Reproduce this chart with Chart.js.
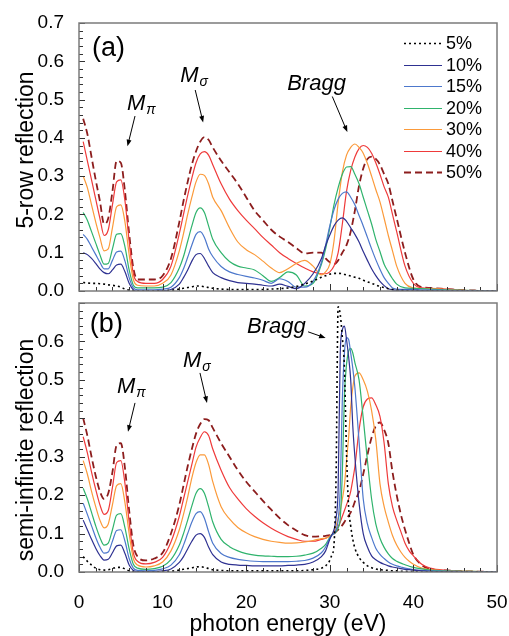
<!DOCTYPE html>
<html>
<head>
<meta charset="utf-8">
<script src="https://cdn.jsdelivr.net/npm/chart.js@4.4.1/dist/chart.umd.min.js"></script>
<style>
  html, body { margin: 0; padding: 0; background: #fff; }
  #wrap { position: relative; width: 509px; height: 636px; }
  canvas { position: absolute; left: 0; }
  #panelA { top: 0; }
  #panelB { top: 290px; }
</style>
</head>
<body>
<div id="wrap">
  <canvas id="panelA" width="509" height="305"></canvas>
  <canvas id="panelB" width="509" height="346"></canvas>
</div>
<script>
// ---- series metadata ----
const seriesLabels = ['5%', '10%', '15%', '20%', '30%', '40%', '50%'];
const seriesColors = ['#000000', '#2e3191', '#4d78cc', '#2fb36c', '#fb9a3a', '#ef3a3a', '#8c1d1d'];
const seriesWidths = [1.6, 1.2, 1.2, 1.2, 1.2, 1.2, 1.8];
const seriesDashes = [[2, 3], [], [], [], [], [], [7, 4]];

// ---- (a) 5-row reflection ----
const energyA = [0.5, 1, 1.5, 2, 2.5, 3, 3.5, 4, 4.5, 5, 5.5, 6, 6.5, 7,
  8, 9, 10, 11, 12,
  12.5, 13, 13.5, 14, 14.5, 15, 15.5, 16,
  17, 18, 19, 20, 21, 22, 23, 24, 25, 26, 27, 28, 29,
  29.5, 30, 30.5, 31, 31.5, 32, 32.5, 33, 33.5, 34, 34.5, 35, 35.5, 36, 36.5, 37, 37.5, 38,
  39, 40, 41, 42,
  44, 46, 48, 50];

const fivePctA = [0.022, 0.021, 0.02, 0.02, 0.019, 0.018, 0.016, 0.015, 0.013, 0.01, 0.005, 0.002, 0.001, 0,
  0, 0, 0.001, 0.002, 0.005,
  0.007, 0.009, 0.011, 0.013, 0.013, 0.011, 0.009, 0.007,
  0.005, 0.004, 0.004, 0.004, 0.004, 0.004, 0.005, 0.006, 0.008, 0.012, 0.018, 0.026, 0.036,
  0.04, 0.044, 0.046, 0.046, 0.045, 0.042, 0.039, 0.036, 0.033, 0.028, 0.024, 0.02, 0.016, 0.012, 0.009, 0.006, 0.004, 0.002,
  0.001, 0, 0, 0,
  0, 0, 0, 0];
const tenPctA = [0.1, 0.095, 0.085, 0.072, 0.058, 0.048, 0.045, 0.055, 0.068, 0.07, 0.05, 0.02, 0.003, 0,
  0, 0, 0.001, 0.004, 0.018,
  0.035, 0.055, 0.078, 0.095, 0.098, 0.085, 0.065, 0.048,
  0.035, 0.027, 0.022, 0.02, 0.018, 0.015, 0.013, 0.018, 0.012, 0.006, 0.02, 0.045, 0.085,
  0.118, 0.146, 0.17, 0.185, 0.191, 0.182, 0.165, 0.148, 0.128, 0.103, 0.08, 0.058, 0.04, 0.025, 0.014, 0.006, 0.003, 0.002,
  0.002, 0.002, 0.001, 0.001,
  0, 0, 0, 0];
const fifteenPctA = [0.148, 0.135, 0.115, 0.095, 0.075, 0.058, 0.058, 0.08, 0.102, 0.104, 0.078, 0.035, 0.008, 0.003,
  0.003, 0.003, 0.005, 0.01, 0.035,
  0.058, 0.088, 0.12, 0.148, 0.155, 0.14, 0.11, 0.09,
  0.064, 0.05, 0.043, 0.038, 0.034, 0.028, 0.02, 0.032, 0.025, 0.01, 0.01, 0.025, 0.075,
  0.12, 0.17, 0.212, 0.24, 0.255, 0.259, 0.245, 0.225, 0.197, 0.17, 0.14, 0.11, 0.082, 0.057, 0.035, 0.02, 0.008, 0.005,
  0.004, 0.004, 0.003, 0.003,
  0.002, 0.001, 0, 0];
const twentyPctA = [0.205, 0.185, 0.155, 0.125, 0.095, 0.07, 0.072, 0.11, 0.148, 0.15, 0.115, 0.055, 0.015, 0.008,
  0.008, 0.008, 0.01, 0.022, 0.06,
  0.09, 0.13, 0.17, 0.205, 0.217, 0.205, 0.17, 0.135,
  0.1, 0.077, 0.065, 0.06, 0.055, 0.04, 0.025, 0.035, 0.05, 0.042, 0.013, 0.02, 0.07,
  0.11, 0.165, 0.225, 0.27, 0.305, 0.324, 0.325, 0.305, 0.28, 0.245, 0.21, 0.175, 0.135, 0.103, 0.07, 0.05, 0.032, 0.018,
  0.008, 0.007, 0.006, 0.005,
  0.003, 0.002, 0.001, 0];
const thirtyPctA = [0.3, 0.27, 0.225, 0.18, 0.14, 0.105, 0.11, 0.165, 0.22, 0.225, 0.18, 0.095, 0.03, 0.015,
  0.013, 0.013, 0.02, 0.042, 0.105,
  0.15, 0.2, 0.245, 0.285, 0.305, 0.302, 0.28, 0.245,
  0.21, 0.165, 0.128, 0.108, 0.095, 0.078, 0.06, 0.048, 0.058, 0.072, 0.08, 0.065, 0.042,
  0.05, 0.07, 0.13, 0.23, 0.31, 0.355, 0.375, 0.384, 0.375, 0.36, 0.333, 0.3, 0.265, 0.233, 0.19, 0.145, 0.105, 0.065,
  0.02, 0.008, 0.006, 0.006,
  0.004, 0.002, 0.001, 0];
const fortyPctA = [0.39, 0.34, 0.29, 0.24, 0.19, 0.145, 0.16, 0.225, 0.285, 0.29, 0.235, 0.13, 0.045, 0.025,
  0.02, 0.02, 0.03, 0.065, 0.15,
  0.2, 0.25, 0.295, 0.335, 0.358, 0.364, 0.355, 0.33,
  0.28, 0.24, 0.21, 0.185, 0.163, 0.14, 0.12, 0.1, 0.085, 0.072, 0.06, 0.05, 0.045,
  0.045, 0.05, 0.065, 0.1, 0.175, 0.26, 0.315, 0.35, 0.372, 0.38, 0.375, 0.36, 0.335, 0.305, 0.272, 0.245, 0.2, 0.155,
  0.065, 0.02, 0.008, 0.007,
  0.005, 0.002, 0.001, 0];
const fiftyPctA = [0.45, 0.41, 0.35, 0.29, 0.235, 0.175, 0.19, 0.26, 0.34, 0.335, 0.26, 0.15, 0.06, 0.03,
  0.03, 0.03, 0.04, 0.085, 0.18,
  0.235, 0.285, 0.33, 0.365, 0.39, 0.402, 0.395, 0.375,
  0.34, 0.31, 0.28, 0.245, 0.21, 0.185, 0.16, 0.142, 0.128, 0.112, 0.098, 0.1, 0.1,
  0.085, 0.075, 0.07, 0.08, 0.1, 0.12, 0.155, 0.21, 0.275, 0.32, 0.345, 0.351, 0.345, 0.33, 0.305, 0.28, 0.235, 0.19,
  0.1, 0.03, 0.01, 0.008,
  0.005, 0.002, 0.001, 0];

// ---- (b) semi-infinite reflection ----
const energyB = [0.5, 1, 1.5, 2, 2.5, 3, 3.5, 4, 4.5, 5, 5.5, 6, 6.5, 7,
  8, 9, 10, 11, 12,
  12.5, 13, 13.5, 14, 14.5, 15, 15.5, 16,
  17, 18, 19, 20, 21, 22, 23, 24, 25, 26, 27, 28, 29,
  29.5, 30, 30.25, 30.5, 30.75, 31, 31.25, 31.5, 31.75, 32, 32.25, 32.5, 32.75, 33,
  33.5, 34, 34.5, 35, 35.5, 36, 36.5, 37, 37.5, 38, 38.5, 39, 39.5, 40,
  41, 42, 44, 46, 48, 50];

const fivePctB = [0.04, 0.028, 0.018, 0.01, 0.006, 0.005, 0.006, 0.009, 0.012, 0.012, 0.008, 0.003, 0.001, 0,
  0, 0, 0.001, 0.002, 0.005,
  0.007, 0.009, 0.011, 0.013, 0.014, 0.012, 0.009, 0.006,
  0.004, 0.003, 0.003, 0.003, 0.003, 0.003, 0.003, 0.003, 0.003, 0.003, 0.004, 0.006, 0.01,
  0.016, 0.03, 0.045, 0.07, 0.25, 0.69, 0.67, 0.61, 0.53, 0.31, 0.17, 0.12, 0.085, 0.062,
  0.038, 0.025, 0.016, 0.011, 0.008, 0.006, 0.005, 0.004, 0.003, 0.003, 0.002, 0.002, 0.001, 0.001,
  0, 0, 0, 0, 0, 0];
const tenPctB = [0.135, 0.11, 0.085, 0.062, 0.043, 0.031, 0.033, 0.05, 0.068, 0.07, 0.048, 0.018, 0.004, 0.001,
  0.001, 0.001, 0.003, 0.008, 0.025,
  0.04, 0.06, 0.08, 0.096, 0.1, 0.09, 0.065, 0.045,
  0.026, 0.02, 0.018, 0.017, 0.016, 0.016, 0.016, 0.016, 0.017, 0.018, 0.02, 0.026, 0.04,
  0.055, 0.085, 0.097, 0.11, 0.14, 0.22, 0.57, 0.63, 0.64, 0.605, 0.56, 0.5, 0.38, 0.3,
  0.18, 0.1, 0.065, 0.042, 0.032, 0.025, 0.02, 0.016, 0.013, 0.011, 0.009, 0.007, 0.006, 0.005,
  0.003, 0.002, 0.001, 0, 0, 0];
const fifteenPctB = [0.179, 0.15, 0.12, 0.09, 0.065, 0.049, 0.052, 0.08, 0.108, 0.11, 0.08, 0.035, 0.01, 0.004,
  0.003, 0.004, 0.008, 0.018, 0.045,
  0.07, 0.1, 0.13, 0.152, 0.157, 0.14, 0.105, 0.075,
  0.048, 0.038, 0.033, 0.03, 0.028, 0.027, 0.027, 0.027, 0.027, 0.028, 0.03, 0.036, 0.05,
  0.065, 0.088, 0.096, 0.1, 0.11, 0.135, 0.22, 0.45, 0.57, 0.61, 0.605, 0.57, 0.53, 0.48,
  0.34, 0.19, 0.125, 0.09, 0.062, 0.046, 0.035, 0.026, 0.02, 0.016, 0.013, 0.01, 0.008, 0.006,
  0.004, 0.003, 0.002, 0.001, 0, 0];
const twentyPctB = [0.218, 0.19, 0.155, 0.12, 0.09, 0.07, 0.075, 0.11, 0.148, 0.152, 0.115, 0.06, 0.02, 0.01,
  0.007, 0.009, 0.015, 0.032, 0.07,
  0.1, 0.135, 0.172, 0.205, 0.217, 0.205, 0.17, 0.13,
  0.085, 0.066, 0.055, 0.048, 0.044, 0.042, 0.041, 0.04, 0.04, 0.041, 0.044, 0.049, 0.062,
  0.072, 0.09, 0.097, 0.1, 0.105, 0.115, 0.14, 0.26, 0.46, 0.54, 0.575, 0.582, 0.57, 0.545,
  0.5, 0.4, 0.29, 0.19, 0.125, 0.088, 0.064, 0.047, 0.035, 0.028, 0.023, 0.019, 0.015, 0.012,
  0.008, 0.005, 0.003, 0.002, 0.001, 0];
const thirtyPctB = [0.29, 0.255, 0.21, 0.17, 0.135, 0.115, 0.125, 0.175, 0.225, 0.23, 0.18, 0.1, 0.035, 0.018,
  0.013, 0.016, 0.026, 0.055, 0.11,
  0.15, 0.195, 0.245, 0.285, 0.305, 0.305, 0.28, 0.235,
  0.17, 0.138, 0.116, 0.102, 0.092, 0.085, 0.08, 0.077, 0.075, 0.076, 0.078, 0.082, 0.087,
  0.088, 0.093, 0.097, 0.105, 0.12, 0.14, 0.16, 0.19, 0.225, 0.29, 0.35, 0.43, 0.48, 0.51,
  0.518, 0.5, 0.47, 0.42, 0.345, 0.23, 0.17, 0.13, 0.095, 0.07, 0.052, 0.038, 0.028, 0.02,
  0.01, 0.006, 0.003, 0.002, 0.001, 0];
const fortyPctB = [0.352, 0.31, 0.26, 0.215, 0.175, 0.15, 0.16, 0.22, 0.285, 0.29, 0.23, 0.13, 0.05, 0.028,
  0.021, 0.025, 0.038, 0.078, 0.145,
  0.19, 0.235, 0.28, 0.325, 0.35, 0.365, 0.355, 0.32,
  0.265, 0.22, 0.19, 0.165, 0.145, 0.128, 0.114, 0.102, 0.092, 0.085, 0.08, 0.08, 0.085,
  0.088, 0.094, 0.097, 0.102, 0.11, 0.118, 0.13, 0.145, 0.16, 0.175, 0.19, 0.21, 0.24, 0.274,
  0.37, 0.43, 0.45, 0.453, 0.435, 0.405, 0.335, 0.23, 0.17, 0.135, 0.105, 0.075, 0.055, 0.042,
  0.02, 0.01, 0.004, 0.002, 0.001, 0];
const fiftyPctB = [0.4, 0.355, 0.3, 0.25, 0.21, 0.19, 0.205, 0.26, 0.33, 0.335, 0.27, 0.16, 0.07, 0.04,
  0.03, 0.035, 0.05, 0.1, 0.175,
  0.225, 0.275, 0.32, 0.36, 0.385, 0.398, 0.395, 0.375,
  0.335, 0.3, 0.265, 0.235, 0.21, 0.185, 0.162, 0.14, 0.122, 0.108, 0.096, 0.092, 0.093,
  0.094, 0.096, 0.097, 0.1, 0.105, 0.11, 0.115, 0.122, 0.13, 0.14, 0.146, 0.155, 0.168, 0.183,
  0.21, 0.255, 0.305, 0.35, 0.38, 0.389, 0.37, 0.335, 0.26, 0.2, 0.15, 0.11, 0.075, 0.045,
  0.018, 0.008, 0.004, 0.002, 0.001, 0];

// axis ticks
const energyTicks = [0, 10, 20, 30, 40, 50];
const reflTicks = [0, 0.1, 0.2, 0.3, 0.4, 0.5, 0.6, 0.7];

// peak labels: text anchor and arrow (energy, reflection)
const notesA = [
  { text: 'M', sub: 'π', at: [5.74, 0.473], arrow: [[6.7, 0.457], [5.8, 0.378]] },
  { text: 'M', sub: 'σ', at: [12.1, 0.546], arrow: [[13.9, 0.525], [14.85, 0.44]] },
  { text: 'Bragg', sub: '', at: [24.9, 0.525], arrow: [[30.3, 0.508], [32.1, 0.415]] },
];
const notesB = [
  { text: 'M', sub: 'π', at: [4.55, 0.466], arrow: [[6.7, 0.44], [5.86, 0.365]] },
  { text: 'M', sub: 'σ', at: [12.44, 0.534], arrow: [[14.47, 0.518], [15.31, 0.44]] },
  { text: 'Bragg', sub: '', at: [20.1, 0.622], arrow: [[27.4, 0.625], [29.5, 0.609]] },
];

const FONT = 'Liberation Sans, Arial, Helvetica, sans-serif';

function drawArrow(ctx, x1, y1, x2, y2) {
  const ang = Math.atan2(y2 - y1, x2 - x1);
  const head = 7, spread = 0.36;
  ctx.beginPath();
  ctx.moveTo(x1, y1);
  ctx.lineTo(x2 - Math.cos(ang) * head * 0.7, y2 - Math.sin(ang) * head * 0.7);
  ctx.stroke();
  ctx.beginPath();
  ctx.moveTo(x2, y2);
  ctx.lineTo(x2 - head * Math.cos(ang - spread), y2 - head * Math.sin(ang - spread));
  ctx.lineTo(x2 - head * Math.cos(ang + spread), y2 - head * Math.sin(ang + spread));
  ctx.closePath();
  ctx.fill();
}

// frame, inward tick marks, titles, peak labels and legend
function panelDecor(info) {
  return {
    id: 'panelDecor',
    afterDatasetsDraw(chart) {
      const { ctx, chartArea: a, scales: { x, y } } = chart;
      ctx.save();

      ctx.strokeStyle = '#333';
      ctx.lineWidth = 1;
      ctx.beginPath();
      for (let k = 0; k <= 35; k++) {
        const py = Math.round(y.getPixelForValue(k * 0.02)) + 0.5;
        const len = k % 5 === 0 ? 6 : 4;
        ctx.moveTo(a.left, py);
        ctx.lineTo(a.left + len, py);
      }
      for (let e = 0; e <= 50; e += 2) {
        const px = Math.round(x.getPixelForValue(e)) + 0.5;
        const len = e % 10 === 0 ? 7 : 4;
        ctx.moveTo(px, a.bottom);
        ctx.lineTo(px, a.bottom - len);
      }
      ctx.stroke();

      ctx.strokeStyle = '#7b7b7b';
      ctx.lineWidth = 1.5;
      ctx.strokeRect(a.left, a.top, a.right - a.left, a.bottom - a.top);

      ctx.fillStyle = '#000';
      ctx.textBaseline = 'alphabetic';

      // panel tag
      ctx.font = '27px ' + FONT;
      ctx.textAlign = 'left';
      ctx.fillText(info.tag, x.getPixelForValue(info.tagAt[0]), y.getPixelForValue(info.tagAt[1]));

      // y title
      ctx.save();
      ctx.translate(info.yTitleX, info.yTitleY);
      ctx.rotate(-Math.PI / 2);
      ctx.textAlign = 'center';
      ctx.font = '23px ' + FONT;
      ctx.fillText(info.yTitle, 0, 0);
      ctx.restore();

      // x title
      if (info.xTitle) {
        ctx.textAlign = 'center';
        ctx.font = '23px ' + FONT;
        ctx.fillText(info.xTitle, (a.left + a.right) / 2, info.xTitleY);
      }

      // peak labels
      ctx.strokeStyle = '#000';
      ctx.lineWidth = 1;
      ctx.textAlign = 'left';
      info.notes.forEach(n => {
        const tx = x.getPixelForValue(n.at[0]);
        const ty = y.getPixelForValue(n.at[1]);
        ctx.font = 'italic 22px ' + FONT;
        ctx.fillText(n.text, tx, ty);
        if (n.sub) {
          const w = ctx.measureText(n.text).width;
          ctx.font = 'italic 14px ' + FONT;
          ctx.fillText(n.sub, tx + w + 1, ty + 4);
        }
        drawArrow(ctx,
          x.getPixelForValue(n.arrow[0][0]), y.getPixelForValue(n.arrow[0][1]),
          x.getPixelForValue(n.arrow[1][0]), y.getPixelForValue(n.arrow[1][1]));
      });

      // legend, one row per series
      if (info.legend) {
        const lx = a.right - 93, ly = a.top + 20, row = 21.5;
        ctx.font = '18px ' + FONT;
        ctx.textBaseline = 'middle';
        seriesLabels.forEach((label, i) => {
          const yy = Math.round(ly + i * row) + 0.5;
          ctx.strokeStyle = seriesColors[i];
          ctx.lineWidth = seriesWidths[i];
          ctx.setLineDash(seriesDashes[i]);
          ctx.beginPath();
          ctx.moveTo(lx, yy);
          ctx.lineTo(lx + 38, yy);
          ctx.stroke();
          ctx.setLineDash([]);
          ctx.fillStyle = '#000';
          ctx.fillText(label, lx + 42, yy + 1);
        });
      }
      ctx.restore();
    }
  };
}

function makePanel(canvasId, energies, seriesValues, info) {
  const datasets = seriesValues.map((vals, i) => ({
    label: seriesLabels[i],
    data: energies.map((e, j) => ({ x: e, y: vals[j] })),
    borderColor: seriesColors[i],
    borderWidth: seriesWidths[i],
    borderDash: seriesDashes[i],
    pointRadius: 0,
    fill: false,
    cubicInterpolationMode: 'monotone',
  }));
  return new Chart(document.getElementById(canvasId), {
    type: 'line',
    data: { datasets },
    options: {
      responsive: false,
      animation: false,
      events: [],
      layout: { padding: info.padding },
      plugins: { legend: { display: false }, tooltip: { enabled: false } },
      scales: {
        x: {
          type: 'linear', min: 0, max: 50,
          display: info.showX,
          // tick length (not padding) pushes the labels down without eating into the right edge
          grid: { display: false, drawTicks: true, tickLength: 19 },
          border: { display: false },
          afterBuildTicks: s => { s.ticks = energyTicks.map(v => ({ value: v })); },
          ticks: { padding: 0, color: '#000', maxRotation: 0, font: { family: FONT, size: 19 } },
          afterFit: s => { if (info.showX) s.height = 64; },
        },
        y: {
          min: 0, max: 0.7,
          grid: { display: false, drawTicks: true, tickLength: 15 },
          border: { display: false },
          afterBuildTicks: s => { s.ticks = reflTicks.map(v => ({ value: v })); },
          ticks: {
            padding: 0, color: '#000', font: { family: FONT, size: 19 },
            callback: v => (info.hideTopTick && v > 0.65) ? '' : v.toFixed(1),
          },
          afterFit: s => { s.width = 79; },
        },
      },
    },
    plugins: [panelDecor(info)],
  });
}

makePanel('panelA', energyA,
  [fivePctA, tenPctA, fifteenPctA, twentyPctA, thirtyPctA, fortyPctA, fiftyPctA],
  {
    padding: { top: 23, right: 12, bottom: 14, left: 0 },
    showX: false, hideTopTick: false,
    tag: '(a)', tagAt: [1.55, 0.614],
    yTitle: '5-row reflection', yTitleX: 33, yTitleY: 150,
    xTitle: null, notes: notesA, legend: true,
  });

makePanel('panelB', energyB,
  [fivePctB, tenPctB, fifteenPctB, twentyPctB, thirtyPctB, fortyPctB, fiftyPctB],
  {
    padding: { top: 13, right: 12, bottom: 0, left: 0 },
    showX: true, hideTopTick: true,
    tag: '(b)', tagAt: [1.3, 0.625],
    yTitle: 'semi-infinite reflection', yTitleX: 33, yTitleY: 160,
    xTitle: 'photon energy (eV)', xTitleY: 341, notes: notesB, legend: false,
  });
</script>
</body>
</html>
